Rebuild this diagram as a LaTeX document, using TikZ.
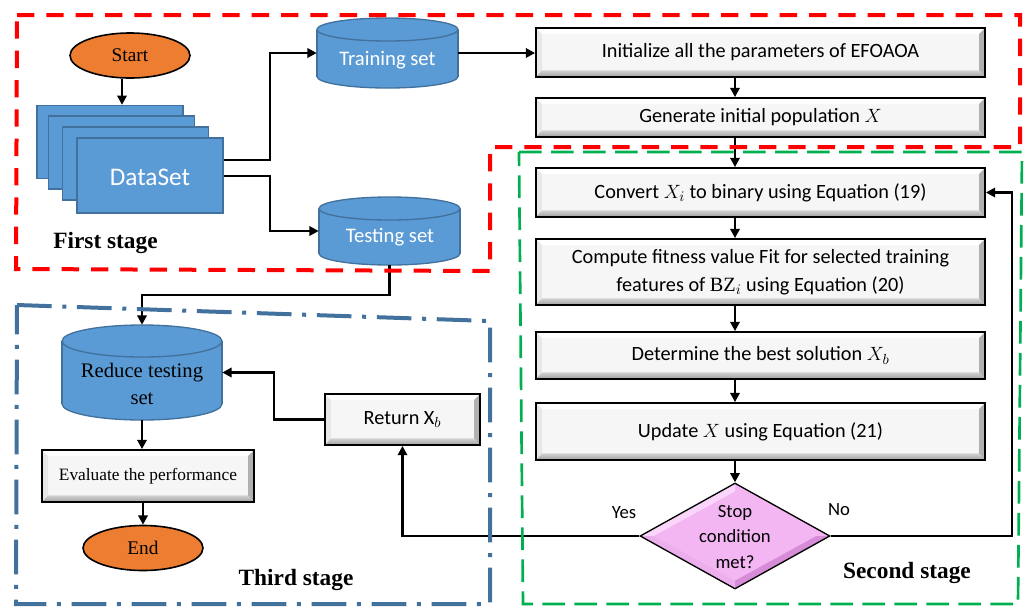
\documentclass[tikz,border=0pt]{standalone}
\usepackage{fontspec}
\setmainfont{Liberation Serif}
\setsansfont{Carlito}
\usetikzlibrary{shapes.geometric,arrows.meta,calc}
\definecolor{cylfill}{HTML}{5B9BD5}
\definecolor{cyldraw}{HTML}{41719C}
\definecolor{orangefill}{HTML}{ED7D31}
\definecolor{redframe}{HTML}{FF0000}
\definecolor{greenframe}{HTML}{00B050}
\definecolor{blueframe}{HTML}{41719C}
\definecolor{pinkfill}{RGB}{243,182,243}
\definecolor{pinklight}{RGB}{250,215,250}
\definecolor{pinkdark}{RGB}{215,140,215}
\newcommand\dbcyl[6]{%
  \fill[cylfill] ({#2-#4/2},{#3-#5/2+#6}) rectangle ({#2+#4/2},{#3+#5/2-#6});
  \fill[cylfill] (#2,{#3+#5/2-#6}) ellipse [x radius={#4/2*0.75pt}, y radius={#6*0.75pt}];
  \draw[cyldraw,line width=1pt] ({#2-#4/2},{#3-#5/2+#6}) -- ({#2-#4/2},{#3+#5/2-#6});
  \draw[cyldraw,line width=1pt] ({#2+#4/2},{#3-#5/2+#6}) -- ({#2+#4/2},{#3+#5/2-#6});
  \begin{scope}
    \clip ({#2-#4/2-4},{#3+#5/2-#6}) rectangle ({#2+#4/2+4},{#3+#5/2+4});
    \draw[cyldraw,line width=1pt] (#2,{#3+#5/2-#6}) ellipse [x radius={#4/2*0.75pt}, y radius={#6*0.75pt}];
  \end{scope}
  \draw[cyldraw,line width=1pt,fill=cylfill] (#2,{#3-#5/2+#6}) ellipse [x radius={#4/2*0.75pt}, y radius={#6*0.75pt}];
  \node[minimum width={#4*0.75pt}, minimum height={#5*0.75pt}, inner sep=0pt] (#1) at (#2,#3) {};
}
\tikzset{
  arr/.style={line width=2pt, -{Triangle[length=7pt,width=7pt]}},
  gbox/.style={draw=black, line width=1.3pt, fill=gray!7, inner sep=0pt,
    minimum width=336.75pt, align=center,
    font=\sffamily\fontsize{15.2}{21}\selectfont,
    path picture={
      \fill[white] (path picture bounding box.north west) -- (path picture bounding box.north east)
        -- ([shift={(-4.5pt,-4.5pt)}]path picture bounding box.north east)
        -- ([shift={(4.5pt,-4.5pt)}]path picture bounding box.north west) -- cycle;
      \fill[gray!18] (path picture bounding box.north west) -- ([shift={(4.5pt,-4.5pt)}]path picture bounding box.north west)
        -- ([shift={(4.5pt,5pt)}]path picture bounding box.south west)
        -- (path picture bounding box.south west) -- cycle;
      \fill[gray!62] (path picture bounding box.north east) -- ([shift={(-4.5pt,-4.5pt)}]path picture bounding box.north east)
        -- ([shift={(-4.5pt,5pt)}]path picture bounding box.south east)
        -- (path picture bounding box.south east) -- cycle;
      \shade[top color=gray!35, bottom color=gray!75] (path picture bounding box.south west)
        -- ([shift={(4.5pt,5pt)}]path picture bounding box.south west)
        -- ([shift={(-4.5pt,5pt)}]path picture bounding box.south east)
        -- (path picture bounding box.south east) -- cycle;
    }},
  ell/.style={ellipse, draw=black, line width=1.2pt, fill=orangefill, minimum width=90pt,
    minimum height=33.75pt, inner sep=0pt, font=\fontsize{14.5}{16}\selectfont},
  dsrect/.style={draw=cyldraw, line width=1pt, fill=cylfill, minimum width=109.5pt,
    minimum height=54.75pt, inner sep=0pt},
  cyltxt/.style={text=white, font=\sffamily\fontsize{15.5}{18}\selectfont, inner sep=0pt},
  stagelbl/.style={font=\bfseries\fontsize{17.5}{20}\selectfont, inner sep=0pt},
  smalltxt/.style={font=\sffamily\fontsize{14}{17}\selectfont, inner sep=0pt},
  redfr/.style={draw=redframe, line width=3pt, dash pattern=on 13pt off 9pt},
  greenfr/.style={draw=greenframe, line width=2pt, dash pattern=on 17pt off 7pt},
  bluefr/.style={draw=blueframe, line width=3pt, dash pattern=on 26pt off 8pt on 3pt off 8pt},
}
\begin{document}
\begin{tikzpicture}[x=0.75pt,y=-0.75pt]
\useasboundingbox (0,0) rectangle (1026,608);

% ---------- first stage ----------
\node[ell] (start) at (130,55.5) {Start};
\node[dsrect] (ds1) at (110,142) {};
\node[dsrect] (ds2) at (121.5,152.5) {};
\node[dsrect] (ds3) at (135.5,163.5) {};
\node[dsrect, minimum height=56.25pt] (ds4) at (150,175.5) {};
\node[text=white, font=\sffamily\fontsize{19}{22}\selectfont, inner sep=0pt] (dstxt) at (150,177) {DataSet};

\dbcyl{train}{387.5}{53}{141}{70}{11.5}
\node[cyltxt] (traint) at (387.5,60) {Training set};
\dbcyl{test}{389.5}{231}{141}{68}{11.5}
\node[cyltxt] (testt) at (390,237) {Testing set};

\node[stagelbl] (first) at (105.5,243) {First stage};

% ---------- second stage ----------
\node[gbox, minimum height=36.75pt] (init) at (760.5,52.5) {Initialize all the parameters of EFOAOA};
\node[gbox, minimum height=29.25pt] (gen) at (760.5,117.5) {Generate initial population $X$};
\node[gbox, minimum height=36.75pt] (conv) at (760.5,192.5) {Convert $X_i$ to binary using Equation (19)};
\node[gbox, minimum height=49.5pt] (comp) at (760.5,272) {Compute fitness value Fit for selected training\\features of $\mathrm{BZ}_i$ using Equation (20)};
\node[gbox, minimum height=35.25pt] (det) at (760.5,355.5) {Determine the best solution $X_b$};
\node[gbox, minimum height=42.75pt] (upd) at (760.5,431.5) {Update $X$ using Equation (21)};

\node[diamond, draw=black, line width=1pt, fill=pinkfill, minimum width=142.5pt, minimum height=79.5pt,
  inner sep=0pt,
  path picture={
    \fill[pinklight] (path picture bounding box.west) -- (path picture bounding box.north)
      -- ([yshift=-6pt]path picture bounding box.north) -- ([xshift=10pt]path picture bounding box.west) -- cycle;
    \fill[pinkdark] (path picture bounding box.east) -- (path picture bounding box.south)
      -- ([yshift=6pt]path picture bounding box.south) -- ([xshift=-10pt]path picture bounding box.east) -- cycle;
    \fill[pinkfill!80!pinkdark] (path picture bounding box.west) -- (path picture bounding box.south)
      -- ([yshift=6pt]path picture bounding box.south) -- ([xshift=10pt]path picture bounding box.west) -- cycle;
  }] (stop) at (735,536) {};
\node[font=\sffamily\fontsize{14}{19}\selectfont, align=center, inner sep=0pt] (stopt) at (735,537) {Stop\\condition\\met?};
\node[smalltxt] (yes) at (624,513) {Yes};
\node[smalltxt] (no) at (839,510) {No};
\node[stagelbl] (second) at (907,573) {Second stage};

% ---------- third stage ----------
\dbcyl{reduce}{142}{372.5}{160}{95}{16}
\node[font=\fontsize{15.5}{20}\selectfont, align=center, inner sep=0pt] (reducet) at (142,384) {Reduce testing\\set};
\node[gbox, minimum width=159pt, minimum height=39pt, font=\fontsize{13}{16}\selectfont] (eval) at (148,476) {Evaluate the performance};
\node[ell] (end) at (143,548) {End};
\node[gbox, minimum width=116.25pt, minimum height=38.25pt] (ret) at (402.5,419.5) {Return X$_b$};
\node[stagelbl] (third) at (296,580) {Third stage};

% ---------- connectors ----------
\coordinate (sa) at (122,0);
\draw[arr] (start.south -| sa) -- (sa |- ds1.north);
\coordinate (j1) at (270,160);
\coordinate (j2) at (270,176);
\draw[arr] (j1 -| ds4.east) -- (j1) |- (train.west);
\draw[arr] (j2 -| ds4.east) -- (j2) |- (test.west);
\draw[arr] (train.east) -- (init.west |- train.east);
\coordinate (j3) at (300,295);
\draw[arr] (test.south) |- (j3) -| (reduce.north);

\coordinate (ax) at (735,0);
\draw[arr] (ax |- init.south) -- (ax |- gen.north);
\draw[arr] (ax |- gen.south) -- (ax |- conv.north);
\draw[arr] (ax |- conv.south) -- (ax |- comp.north);
\draw[arr] (ax |- comp.south) -- (ax |- det.north);
\draw[arr] (ax |- det.south) -- (ax |- upd.north);
\draw[arr] (ax |- upd.south) -- (stop.north);

\coordinate (j4) at (1012,536);
\draw[arr] (stop.east) -- (j4) |- (conv.east);
\draw[arr] (stop.west) -| (ret.south);
\coordinate (j5) at (274,372.5);
\draw[arr] (ret.west) -| (j5) -- (reduce.east);
\draw[arr] (reduce.south) -- (reduce.south |- eval.north);
\draw[arr] (end.north |- eval.south) -- (end.north);

% ---------- frames ----------
\draw[redfr] (17,15) -- (1020,15) -- (1020,147) -- (490,147) -- (490,271) -- (16,269) -- cycle;
\draw[greenfr] (519,152) -- (1022,152) -- (1018,604) -- (523,604) -- cycle;
\draw[bluefr] (17,305) -- (490,321) -- (490,604) -- (16,604) -- cycle;
\end{tikzpicture}
\end{document}
